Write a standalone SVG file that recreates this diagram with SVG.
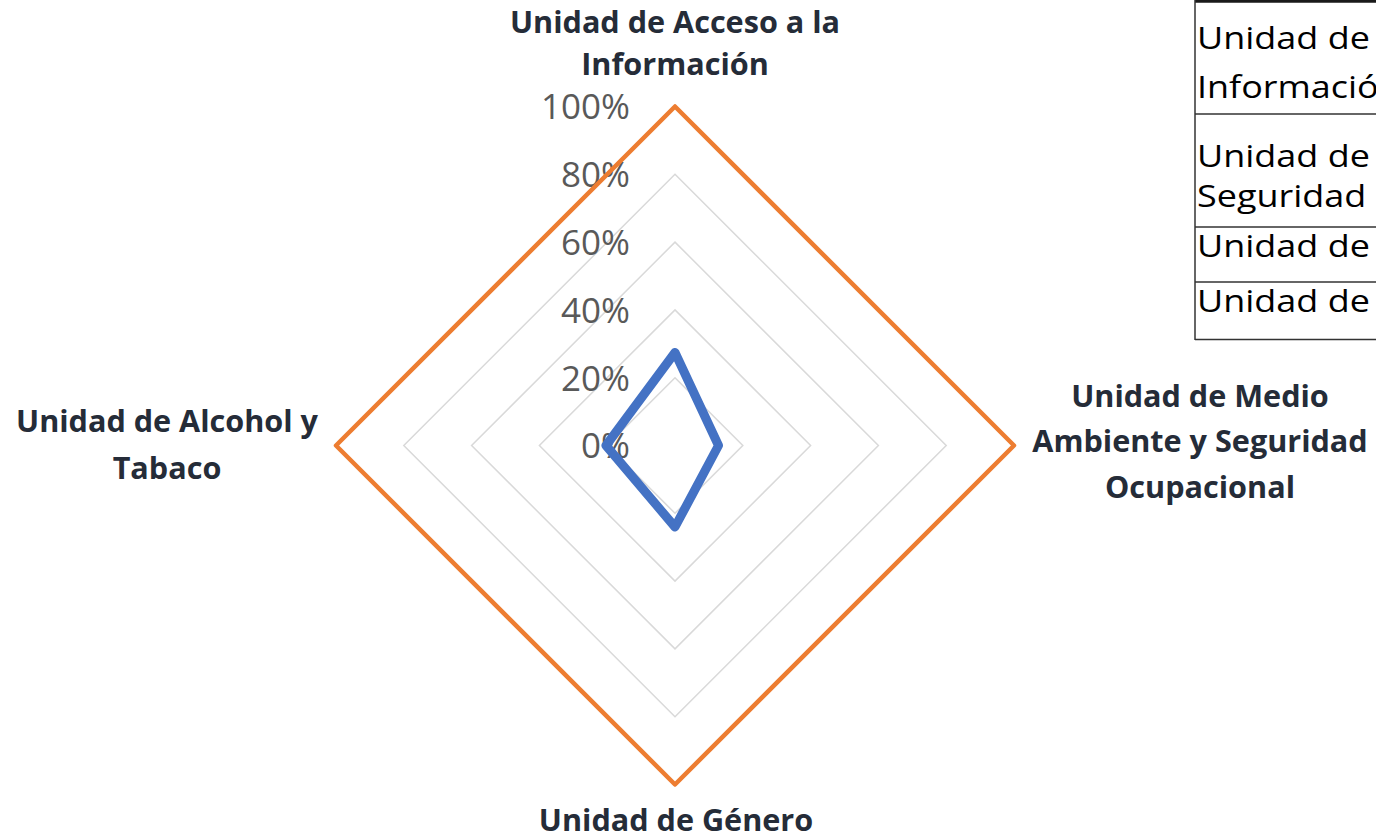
<svg xmlns="http://www.w3.org/2000/svg" width="1376" height="840" viewBox="0 0 1376 840">
<style>
.grid{fill:none;stroke:#D9D9D9;stroke-width:1.5}
.tick{font-family:"Open Sans","Liberation Sans",sans-serif;font-size:35px;fill:#595959;text-anchor:end}
.cat{font-family:"Open Sans","Liberation Sans",sans-serif;font-size:30.6px;font-weight:bold;fill:#252C38;text-anchor:middle}
.tbl{font-family:"Open Sans","Liberation Sans",sans-serif;font-size:31px;fill:#000}
.rule{stroke:#333;stroke-width:1.5}
</style>
<rect width="1376" height="840" fill="#fff"/>
<g id="gridlines">
<polygon class="grid" points="675,377.7 742.8,445.5 675,513.3 607.2,445.5"/>
<polygon class="grid" points="675,309.9 810.6,445.5 675,581.1 539.4,445.5"/>
<polygon class="grid" points="675,242.1 878.4,445.5 675,648.9 471.6,445.5"/>
<polygon class="grid" points="675,174.3 946.2,445.5 675,716.7 403.8,445.5"/>
<polygon class="grid" points="675,106.5 1014,445.5 675,784.5 336,445.5"/>
</g>
<g id="axis-labels">
<text class="tick" x="630" y="119">100%</text>
<text class="tick" x="630" y="187">80%</text>
<text class="tick" x="630" y="255">60%</text>
<text class="tick" x="630" y="322.5">40%</text>
<text class="tick" x="630" y="390.5">20%</text>
<text class="tick" x="630" y="458">0%</text>
</g>
<g id="series-max">
<polygon points="675,106.5 1014,445.5 675,784.5 336,445.5" fill="none" stroke="#ED7D31" stroke-width="4.5" stroke-linejoin="round"/>
</g>
<g id="series-actual">
<polygon points="675,352.5 718.5,445.5 675,527 606,445.5" fill="none" stroke="#4472C4" stroke-width="9" stroke-linejoin="round"/>
</g>
<g id="cat-top">
<text class="cat" x="675" y="33">Unidad de Acceso a la</text>
<text class="cat" x="675" y="75">Información</text>
</g>
<g id="cat-right">
<text class="cat" x="1200" y="407">Unidad de Medio</text>
<text class="cat" x="1200" y="452">Ambiente y Seguridad</text>
<text class="cat" x="1200" y="498">Ocupacional</text>
</g>
<g id="cat-bottom">
<text class="cat" x="676" y="831">Unidad de Género</text>
</g>
<g id="cat-left">
<text class="cat" x="167" y="432">Unidad de Alcohol y</text>
<text class="cat" x="167" y="479">Tabaco</text>
</g>
<g id="table">
<rect x="1195" y="0" width="190" height="339" fill="#fff"/>
<line x1="1195" y1="1.3" x2="1376" y2="1.3" stroke="#1a1a1a" stroke-width="3"/>
<line class="rule" x1="1195" y1="0" x2="1195" y2="340"/>
<line class="rule" x1="1195" y1="114" x2="1376" y2="114"/>
<line class="rule" x1="1195" y1="227" x2="1376" y2="227"/>
<line class="rule" x1="1195" y1="282" x2="1376" y2="282"/>
<line class="rule" x1="1195" y1="339.5" x2="1376" y2="339.5"/>
<g transform="translate(1197,0) scale(1.16,1)">
<text class="tbl" x="0" y="49">Unidad de</text>
<text class="tbl" x="0" y="98">Información</text>
<text class="tbl" x="0" y="167">Unidad de</text>
<text class="tbl" x="0" y="207">Seguridad</text>
<text class="tbl" x="0" y="257">Unidad de</text>
<text class="tbl" x="0" y="312">Unidad de</text>
</g>
</g>
</svg>
